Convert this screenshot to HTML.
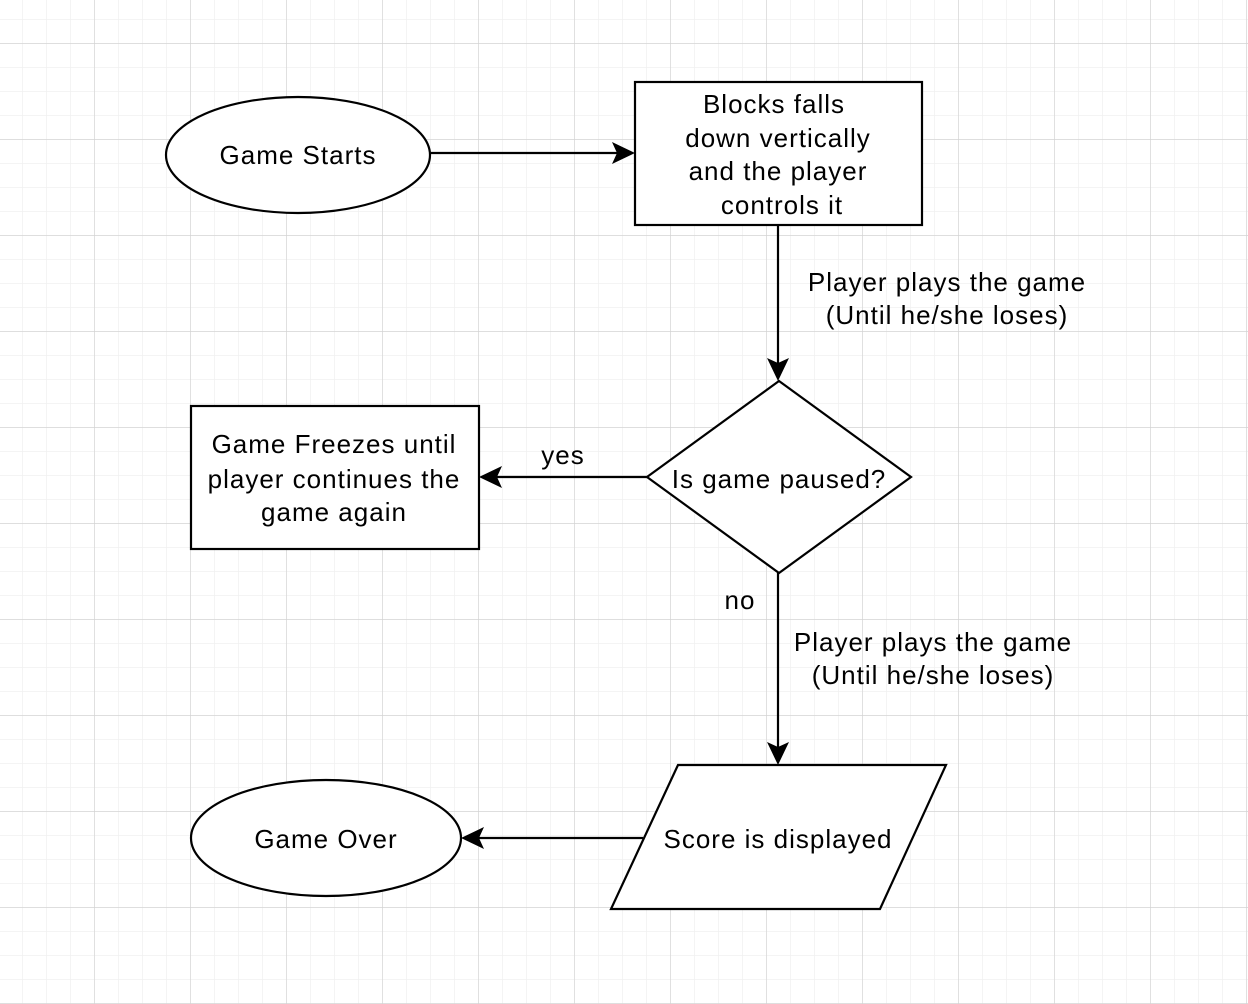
<!DOCTYPE html>
<html><head><meta charset="utf-8"><style>
html,body{margin:0;padding:0;background:#fff}
svg{display:block}
text{font-family:"Liberation Sans",Helvetica,Arial,sans-serif;font-size:26px;letter-spacing:1px;fill:#000}
</style></head><body>
<svg width="1248" height="1004" viewBox="0 0 1248 1004" xmlns="http://www.w3.org/2000/svg">
<defs>
<pattern id="minor" x="22" y="19" width="24" height="24" patternUnits="userSpaceOnUse">
<path d="M0 0H24M0 0V24" stroke="#f0f0f0" stroke-width="1.5" fill="none"/>
</pattern>
<pattern id="major" x="94" y="43" width="96" height="96" patternUnits="userSpaceOnUse">
<path d="M0 0H96M0 0V96" stroke="#d0d0d0" stroke-width="1.2" fill="none"/>
</pattern>
</defs>
<rect width="1248" height="1004" fill="#fff"/>
<rect width="1248" height="1004" fill="url(#minor)"/>
<rect width="1248" height="1004" fill="url(#major)"/>
<g stroke="#000" stroke-width="2.2" fill="#fff">
<ellipse cx="298" cy="155" rx="132" ry="58"/>
<rect x="635" y="82" width="287" height="143"/>
<polygon points="779,381 911,477 779,573 647,477"/>
<rect x="191" y="406" width="288" height="143"/>
<polygon points="678,765 946,765 880,909 611,909"/>
<ellipse cx="326" cy="838" rx="135" ry="58"/>
</g>
<g stroke="#000" stroke-width="2.2" fill="none">
<path d="M431 153H620"/>
<path d="M778 225V366"/>
<path d="M647 477H494"/>
<path d="M778 573V750"/>
<path d="M643 838H476"/>
</g>
<g fill="#000">
<path d="M635 153L612 164L617 153L612 142Z"/>
<path d="M778 381L767 358L778 363L789 358Z"/>
<path d="M479 477L502 466L497 477L502 488Z"/>
<path d="M778 765L767 742L778 747L789 742Z"/>
<path d="M461 838L484 827L479 838L484 849Z"/>
</g>
<g text-anchor="middle">
<text x="298" y="164">Game Starts</text>
<text x="774" y="113">Blocks falls</text>
<text x="778" y="147">down vertically</text>
<text x="778" y="180">and the player</text>
<text x="782" y="214">controls it</text>
<text x="947" y="291">Player plays the game</text>
<text x="947" y="324">(Until he/she loses)</text>
<text x="779" y="488">Is game paused?</text>
<text x="563" y="464">yes</text>
<text x="334" y="453">Game Freezes until</text>
<text x="334" y="488">player continues the</text>
<text x="334" y="521">game again</text>
<text x="740" y="609">no</text>
<text x="933" y="651">Player plays the game</text>
<text x="933" y="684">(Until he/she loses)</text>
<text x="778" y="848">Score is displayed</text>
<text x="326" y="848">Game Over</text>
</g>
</svg>
</body></html>
